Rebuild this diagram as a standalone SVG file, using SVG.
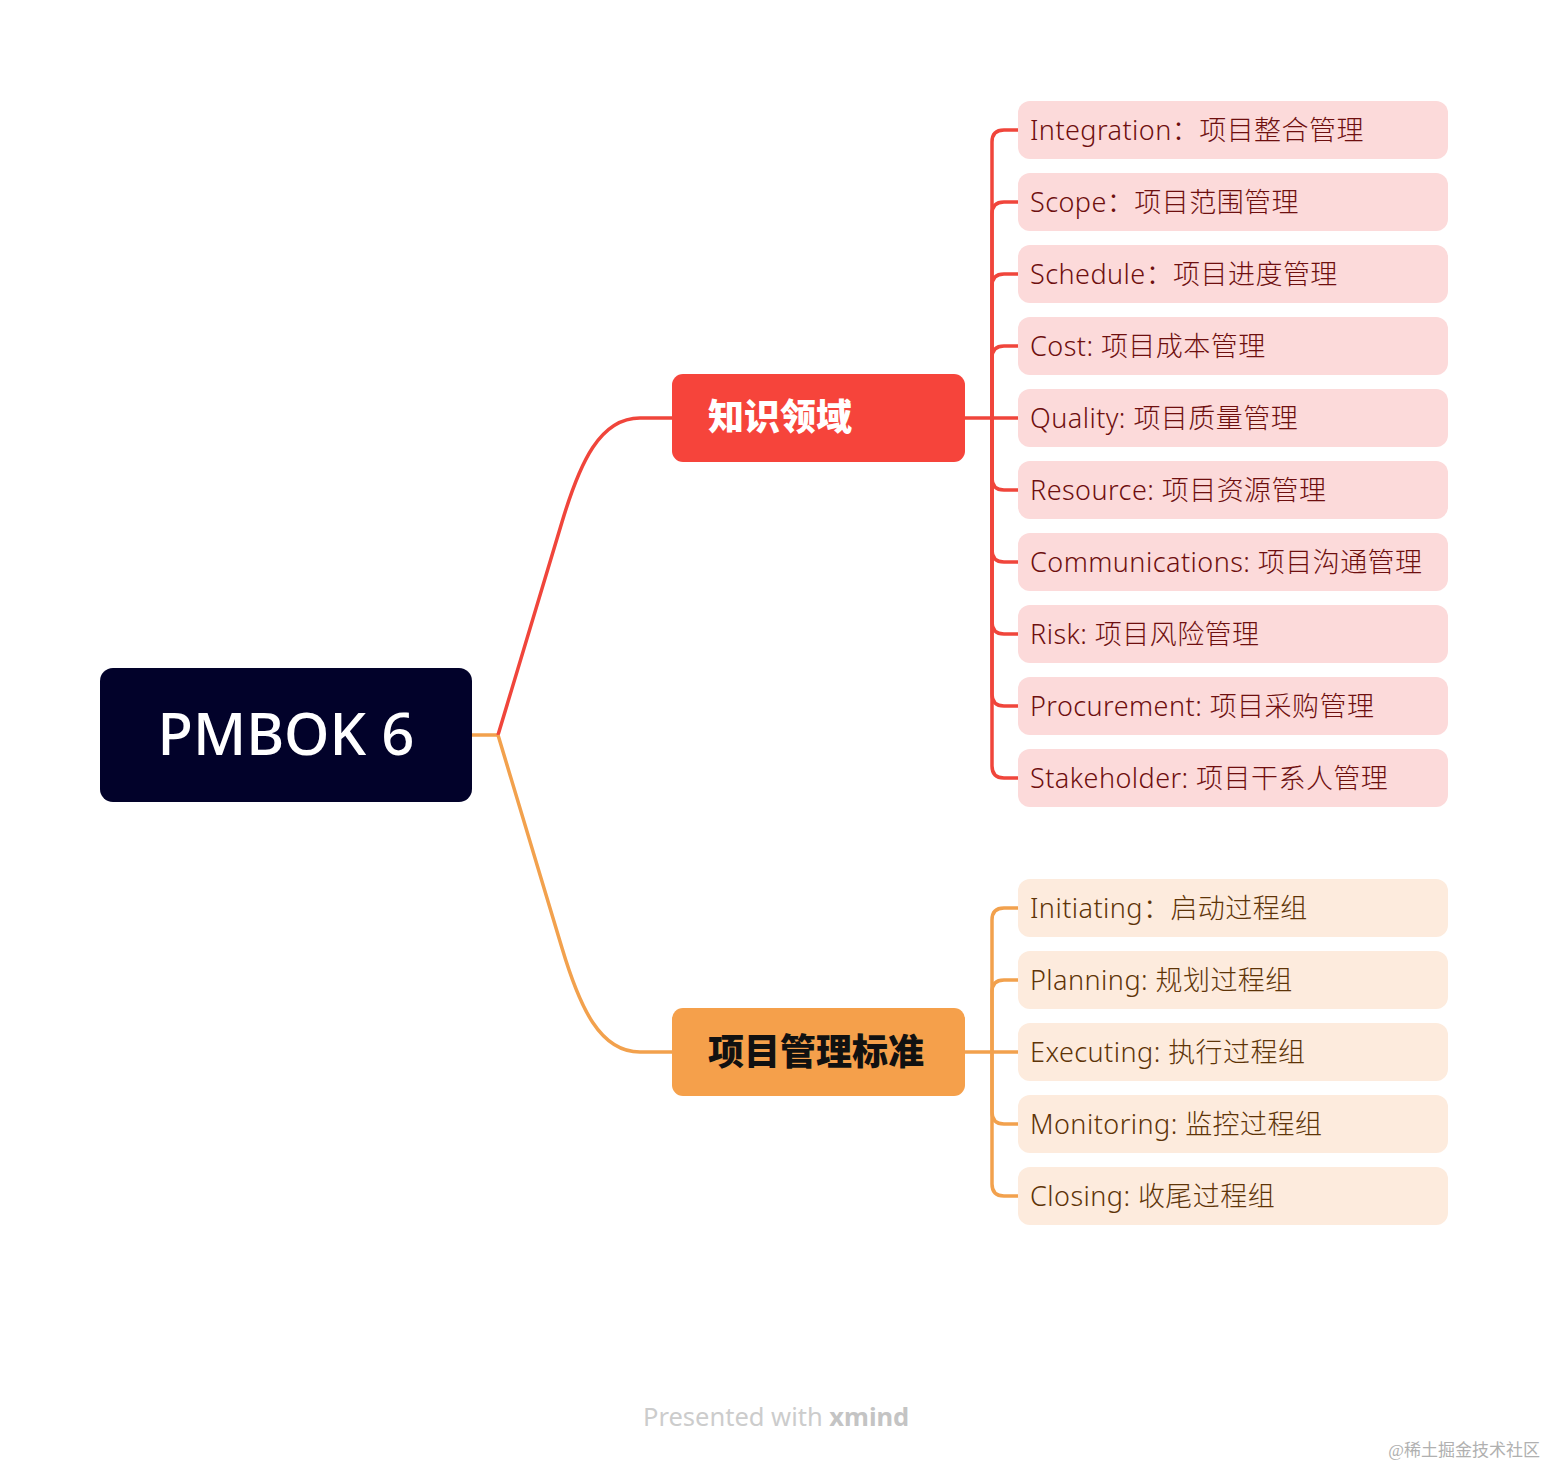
<svg xmlns="http://www.w3.org/2000/svg" width="1548" height="1466" viewBox="0 0 1548 1466">
<style>
.leafR{fill:#fcdada}
.leafO{fill:#fdebdd}
.tR{font-family:"Noto Sans","Noto Sans CJK SC",sans-serif;font-size:27px;font-weight:300;letter-spacing:0.45px;fill:#6e0f0f}
.tO{font-family:"Noto Sans","Noto Sans CJK SC",sans-serif;font-size:27px;font-weight:300;letter-spacing:0.45px;fill:#5e3408}
.cR{fill:none;stroke:#f0453b;stroke-width:3.5}
.cO{fill:none;stroke:#f2a14d;stroke-width:3.5}
</style>
<rect width="1548" height="1466" fill="#ffffff"/>
<g id="connectors">
<path class="cO" d="M472 735 H498"/>
<path class="cR" d="M498 735 L562 522 C580 462 600 418 640 418 H672"/>
<path class="cO" d="M498 735 L562 948 C580 1008 600 1052 640 1052 H672"/>
<path class="cR" d="M965 418 H1018"/>
<path class="cR" d="M992 418 V142 Q992 130 1004 130 H1018"/>
<path class="cR" d="M992 418 V214 Q992 202 1004 202 H1018"/>
<path class="cR" d="M992 418 V286 Q992 274 1004 274 H1018"/>
<path class="cR" d="M992 418 V358 Q992 346 1004 346 H1018"/>
<path class="cR" d="M992 418 V478 Q992 490 1004 490 H1018"/>
<path class="cR" d="M992 418 V550 Q992 562 1004 562 H1018"/>
<path class="cR" d="M992 418 V622 Q992 634 1004 634 H1018"/>
<path class="cR" d="M992 418 V694 Q992 706 1004 706 H1018"/>
<path class="cR" d="M992 418 V766 Q992 778 1004 778 H1018"/>
<path class="cO" d="M965 1052 H1018"/>
<path class="cO" d="M992 1052 V920 Q992 908 1004 908 H1018"/>
<path class="cO" d="M992 1052 V992 Q992 980 1004 980 H1018"/>
<path class="cO" d="M992 1052 V1112 Q992 1124 1004 1124 H1018"/>
<path class="cO" d="M992 1052 V1184 Q992 1196 1004 1196 H1018"/>
</g>
<g id="root">
<rect x="100" y="668" width="372" height="134" rx="13" fill="#02022a"/>
<text x="286" y="755" text-anchor="middle" font-family="'Noto Sans',sans-serif" font-size="58" font-weight="500" fill="#ffffff">PMBOK 6</text>
</g>
<g id="branch-knowledge">
<rect x="672" y="374" width="293" height="88" rx="11" fill="#f6443b"/>
<text x="708" y="430" font-family="'Noto Sans CJK SC',sans-serif" font-size="36" font-weight="900" fill="#ffffff">知识领域</text>
</g>
<g id="branch-standard">
<rect x="672" y="1008" width="293" height="88" rx="11" fill="#f5a04b"/>
<text x="708" y="1065" font-family="'Noto Sans CJK SC',sans-serif" font-size="36" font-weight="900" fill="#111111">项目管理标准</text>
</g>
<g id="leaf-integration"><rect class="leafR" x="1018" y="101" width="430" height="58" rx="12"/><text class="tR" x="1030" y="140">Integration：项目整合管理</text></g>
<g id="leaf-scope"><rect class="leafR" x="1018" y="173" width="430" height="58" rx="12"/><text class="tR" x="1030" y="212">Scope：项目范围管理</text></g>
<g id="leaf-schedule"><rect class="leafR" x="1018" y="245" width="430" height="58" rx="12"/><text class="tR" x="1030" y="284">Schedule：项目进度管理</text></g>
<g id="leaf-cost"><rect class="leafR" x="1018" y="317" width="430" height="58" rx="12"/><text class="tR" x="1030" y="356">Cost: 项目成本管理</text></g>
<g id="leaf-quality"><rect class="leafR" x="1018" y="389" width="430" height="58" rx="12"/><text class="tR" x="1030" y="428">Quality: 项目质量管理</text></g>
<g id="leaf-resource"><rect class="leafR" x="1018" y="461" width="430" height="58" rx="12"/><text class="tR" x="1030" y="500">Resource: 项目资源管理</text></g>
<g id="leaf-communications"><rect class="leafR" x="1018" y="533" width="430" height="58" rx="12"/><text class="tR" x="1030" y="572">Communications: 项目沟通管理</text></g>
<g id="leaf-risk"><rect class="leafR" x="1018" y="605" width="430" height="58" rx="12"/><text class="tR" x="1030" y="644">Risk: 项目风险管理</text></g>
<g id="leaf-procurement"><rect class="leafR" x="1018" y="677" width="430" height="58" rx="12"/><text class="tR" x="1030" y="716">Procurement: 项目采购管理</text></g>
<g id="leaf-stakeholder"><rect class="leafR" x="1018" y="749" width="430" height="58" rx="12"/><text class="tR" x="1030" y="788">Stakeholder: 项目干系人管理</text></g>
<g id="leaf-initiating"><rect class="leafO" x="1018" y="879" width="430" height="58" rx="12"/><text class="tO" x="1030" y="918">Initiating：启动过程组</text></g>
<g id="leaf-planning"><rect class="leafO" x="1018" y="951" width="430" height="58" rx="12"/><text class="tO" x="1030" y="990">Planning: 规划过程组</text></g>
<g id="leaf-executing"><rect class="leafO" x="1018" y="1023" width="430" height="58" rx="12"/><text class="tO" x="1030" y="1062">Executing: 执行过程组</text></g>
<g id="leaf-monitoring"><rect class="leafO" x="1018" y="1095" width="430" height="58" rx="12"/><text class="tO" x="1030" y="1134">Monitoring: 监控过程组</text></g>
<g id="leaf-closing"><rect class="leafO" x="1018" y="1167" width="430" height="58" rx="12"/><text class="tO" x="1030" y="1206">Closing: 收尾过程组</text></g>
<text x="643" y="1426" font-family="'Noto Sans',sans-serif" font-size="25.5" fill="#cccccc">Presented with <tspan font-weight="700" fill="#c4c4c4">xmind</tspan></text>
<text x="1540" y="1456" text-anchor="end" font-family="'Liberation Serif','Noto Sans CJK SC',serif" font-size="17" fill="#b0b0b0">@稀土掘金技术社区</text>
</svg>
